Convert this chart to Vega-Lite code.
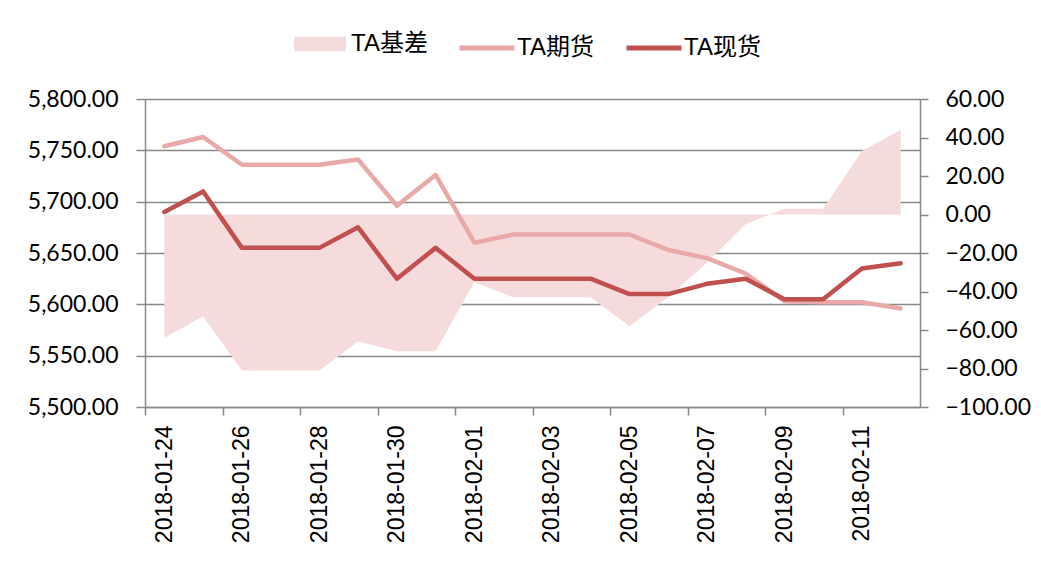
{
  "$schema": "https://vega.github.io/schema/vega-lite/v6.json",
  "width": 775,
  "height": 308,
  "autosize": {"type": "none"},
  "padding": {"left": 145, "top": 99, "right": 121, "bottom": 158},
  "background": "white",
  "config": {
    "view": {"stroke": null},
    "axis": {
      "domainColor": "#898989",
      "tickColor": "#898989",
      "gridColor": "#898989",
      "domainWidth": 1.5,
      "tickWidth": 1.5,
      "gridWidth": 1.3,
      "labelColor": "#000000",
      "title": null
    }
  },
  "data": {
    "values": [
      {"date": "2018-01-24", "futures": 5754, "spot": 5690, "basis": -64},
      {"date": "2018-01-25", "futures": 5763, "spot": 5710, "basis": -53},
      {"date": "2018-01-26", "futures": 5736, "spot": 5655, "basis": -81},
      {"date": "2018-01-27", "futures": 5736, "spot": 5655, "basis": -81},
      {"date": "2018-01-28", "futures": 5736, "spot": 5655, "basis": -81},
      {"date": "2018-01-29", "futures": 5741, "spot": 5675, "basis": -66},
      {"date": "2018-01-30", "futures": 5696, "spot": 5625, "basis": -71},
      {"date": "2018-01-31", "futures": 5726, "spot": 5655, "basis": -71},
      {"date": "2018-02-01", "futures": 5660, "spot": 5625, "basis": -35},
      {"date": "2018-02-02", "futures": 5668, "spot": 5625, "basis": -43},
      {"date": "2018-02-03", "futures": 5668, "spot": 5625, "basis": -43},
      {"date": "2018-02-04", "futures": 5668, "spot": 5625, "basis": -43},
      {"date": "2018-02-05", "futures": 5668, "spot": 5610, "basis": -58},
      {"date": "2018-02-06", "futures": 5653, "spot": 5610, "basis": -43},
      {"date": "2018-02-07", "futures": 5645, "spot": 5620, "basis": -25},
      {"date": "2018-02-08", "futures": 5630, "spot": 5625, "basis": -5},
      {"date": "2018-02-09", "futures": 5603, "spot": 5605, "basis": 3},
      {"date": "2018-02-10", "futures": 5602, "spot": 5605, "basis": 3},
      {"date": "2018-02-11", "futures": 5602, "spot": 5635, "basis": 33},
      {"date": "2018-02-12", "futures": 5596, "spot": 5640, "basis": 44}
    ]
  },
  "encoding": {
    "x": {
      "field": "date",
      "type": "ordinal",
      "sort": null,
      "scale": {"type": "point", "padding": 0.5},
      "axis": {
        "values": ["2018-01-24", "2018-01-26", "2018-01-28", "2018-01-30", "2018-02-01", "2018-02-03", "2018-02-05", "2018-02-07", "2018-02-09", "2018-02-11"],
        "labelAngle": -90,
        "labelFont": "Liberation Sans",
        "labelFontSize": 23,
        "tickSize": 8,
        "tickOffset": -19.375,
        "labelOffset": 19.375,
        "labelPadding": 10,
        "grid": false,
        "title": null
      }
    }
  },
  "layer": [
    {
      "mark": {"type": "area", "color": "#F5DBDB"},
      "encoding": {
        "y": {
          "field": "basis",
          "type": "quantitative",
          "scale": {"domain": [-100, 60], "nice": false},
          "axis": {
            "orient": "right",
            "values": [-100, -80, -60, -40, -20, 0, 20, 40, 60],
            "format": ".2f",
            "grid": false,
            "tickSize": 8,
            "labelPadding": 17,
            "labelFont": "Lato",
            "labelFontSize": 23,
            "title": null
          }
        },
        "fill": {
          "datum": "TA基差",
          "type": "nominal",
          "scale": {"domain": ["TA基差"], "range": ["#F5DBDB"]},
          "legend": {
            "orient": "none",
            "legendX": 149,
            "legendY": -81,
            "title": null,
            "padding": 0,
            "symbolType": "M-1,-0.277L1,-0.277L1,0.277L-1,0.277Z",
            "symbolSize": 2704,
            "symbolStrokeWidth": 0,
            "symbolOpacity": 1,
            "labelFont": "Liberation Sans, Noto Sans CJK SC",
            "labelFontSize": 24,
            "labelColor": "#000000",
            "labelOffset": 5
          }
        }
      }
    },
    {
      "layer": [
        {
          "mark": {"type": "line", "strokeWidth": 4.5, "strokeJoin": "round", "strokeCap": "round"},
          "encoding": {
            "y": {
              "field": "futures",
              "type": "quantitative",
              "scale": {"domain": [5500, 5800], "nice": false, "zero": false},
              "axis": {
                "orient": "left",
                "values": [5500, 5550, 5600, 5650, 5700, 5750, 5800],
                "format": ",.2f",
                "grid": true,
                "tickSize": 9,
                "labelPadding": 18,
                "labelFont": "Lato",
                "labelFontSize": 23,
                "title": null
              }
            },
            "stroke": {
              "datum": "TA期货",
              "type": "nominal",
              "scale": {"domain": ["TA期货", "TA现货"], "range": ["#E8A9A8", "#C0504D"]},
              "legend": {
                "orient": "none",
                "legendX": 312,
                "legendY": -81,
                "direction": "horizontal",
                "title": null,
                "padding": 0,
                "symbolType": "stroke",
                "symbolSize": 3025,
                "symbolStrokeWidth": 5,
                "symbolOpacity": 1,
                "labelFont": "Liberation Sans, Noto Sans CJK SC",
                "labelFontSize": 24,
                "labelColor": "#000000",
                "labelOffset": 0,
                "columnPadding": 22
              }
            }
          }
        },
        {
          "mark": {"type": "line", "strokeWidth": 4.5, "strokeJoin": "round", "strokeCap": "round"},
          "encoding": {
            "y": {
              "field": "spot",
              "type": "quantitative",
              "scale": {"domain": [5500, 5800], "nice": false, "zero": false},
              "axis": {
                "orient": "left",
                "values": [5500, 5550, 5600, 5650, 5700, 5750, 5800],
                "format": ",.2f",
                "grid": true,
                "tickSize": 9,
                "labelPadding": 18,
                "labelFont": "Lato",
                "labelFontSize": 23,
                "title": null
              }
            },
            "stroke": {"datum": "TA现货", "type": "nominal"}
          }
        }
      ]
    }
  ],
  "resolve": {"scale": {"y": "independent"}}
}
